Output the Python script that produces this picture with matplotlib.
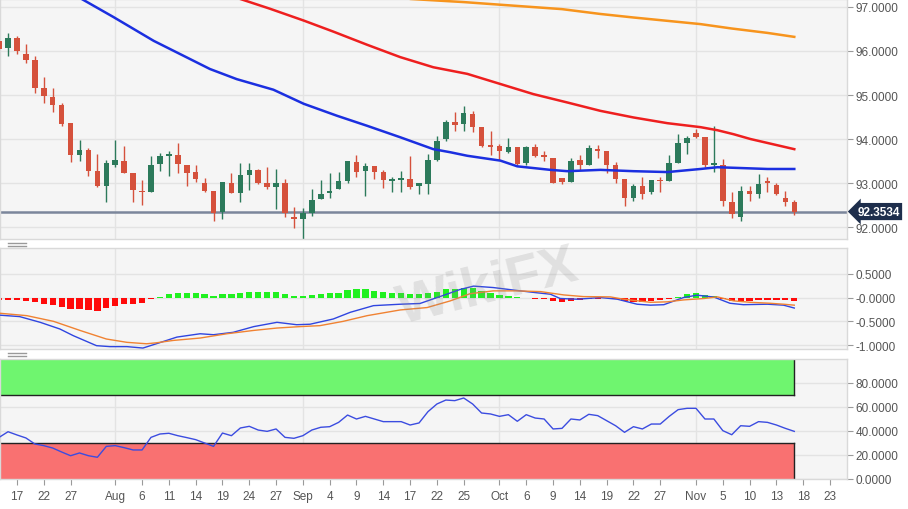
import numpy as np
import pandas as pd
import matplotlib
matplotlib.use("Agg")
import matplotlib.pyplot as plt
import matplotlib.transforms as mtransforms
from matplotlib.lines import Line2D

plt.rcParams['font.family'] = ['Liberation Sans', 'DejaVu Sans']

# trading days shown on the axis (chart runs a few days into the future)
dates = pd.bdate_range('2020-07-15', '2020-11-27')

# daily candles, 15 Jul - 17 Nov 2020
opens = [96.22, 96.06, 96.29, 95.93, 95.80, 95.17, 94.95, 94.78, 94.36, 93.64,
         93.75, 93.27, 92.94, 93.41, 93.51, 93.24, 92.83, 92.79, 93.43, 93.61,
         93.64, 93.42, 93.26, 93.01, 92.83, 92.35, 93.01, 92.77, 93.19, 93.30,
         93.00, 92.92, 93.00, 92.24, 92.18, 92.31, 92.64, 92.77, 92.86, 93.05,
         93.47, 93.28, 93.39, 93.26, 93.05, 93.08, 93.09, 92.94, 92.98, 93.52,
         94.00, 94.38, 94.34, 94.57, 94.27, 93.86, 93.85, 93.71, 93.81, 93.45,
         93.83, 93.64, 93.58, 93.11, 93.03, 93.52, 93.42, 93.77, 93.72, 93.41,
         93.09, 92.65, 92.94, 92.80, 93.07, 93.04, 93.45, 93.92, 94.13, 94.04,
         93.41, 93.41, 92.57, 92.22, 92.81, 92.75, 93.05, 92.96, 92.67, 92.56]
highs = [96.30, 96.40, 96.33, 96.16, 95.89, 95.40, 95.17, 94.81, 94.36, 93.98,
         93.79, 93.67, 93.52, 93.98, 93.85, 93.24, 93.07, 93.62, 93.68, 93.72,
         93.90, 93.42, 93.42, 93.11, 92.83, 93.03, 93.24, 93.45, 93.45, 93.33,
         93.36, 93.32, 93.09, 92.45, 92.43, 92.86, 93.07, 93.24, 93.26, 93.49,
         93.64, 93.45, 93.39, 93.30, 93.14, 93.28, 93.62, 93.00, 93.67, 94.08,
         94.44, 94.61, 94.74, 94.63, 94.27, 94.19, 93.89, 94.02, 93.81, 93.85,
         93.89, 93.73, 93.58, 93.12, 93.58, 93.64, 93.87, 93.87, 93.72, 93.47,
         93.09, 92.98, 93.13, 93.07, 93.14, 93.64, 94.11, 94.07, 94.23, 94.04,
         94.30, 93.55, 92.80, 92.94, 92.94, 93.20, 93.14, 93.00, 92.83, 92.61]
lows = [95.80, 95.89, 95.92, 95.73, 95.05, 94.82, 94.61, 94.30, 93.47, 93.49,
        93.17, 92.92, 92.56, 93.36, 93.22, 92.56, 92.50, 92.79, 93.28, 93.17,
        93.24, 92.93, 93.03, 92.79, 92.14, 92.18, 92.77, 92.58, 92.85, 92.98,
        92.86, 92.41, 92.22, 91.99, 91.73, 92.26, 92.64, 92.66, 92.86, 93.01,
        93.13, 92.71, 93.09, 92.88, 92.79, 92.79, 92.86, 92.75, 92.75, 93.50,
        93.96, 94.19, 94.19, 94.15, 93.82, 93.64, 93.53, 93.69, 93.41, 93.41,
        93.60, 93.49, 93.01, 92.99, 93.03, 93.30, 93.41, 93.57, 93.22, 93.00,
        92.47, 92.60, 92.64, 92.75, 92.79, 93.04, 93.45, 93.66, 94.02, 93.36,
        93.26, 92.48, 92.20, 92.14, 92.60, 92.66, 92.79, 92.72, 92.49, 92.28]
closes = [96.05, 96.29, 96.01, 95.80, 95.17, 94.97, 94.78, 94.34, 93.64, 93.76,
          93.27, 92.94, 93.45, 93.52, 93.24, 92.84, 92.79, 93.41, 93.61, 93.66,
          93.43, 93.24, 93.09, 92.83, 92.33, 93.03, 92.77, 93.19, 93.30, 93.00,
          92.90, 93.00, 92.33, 92.18, 92.31, 92.62, 92.75, 92.81, 93.05, 93.49,
          93.26, 93.38, 93.26, 93.08, 93.09, 93.11, 92.90, 93.00, 93.52, 93.96,
          94.38, 94.32, 94.58, 94.27, 93.85, 93.83, 93.72, 93.81, 93.43, 93.83,
          93.62, 93.60, 93.01, 93.03, 93.51, 93.42, 93.79, 93.72, 93.41, 93.09,
          92.65, 92.94, 92.75, 93.07, 93.04, 93.45, 93.92, 94.02, 94.04, 93.42,
          93.45, 92.60, 92.30, 92.83, 92.75, 92.99, 93.01, 92.75, 92.56, 92.3534]
last_price = 92.3534

# moving averages, read at points along each curve (bar index, value)
sma50_idx = [8, 9.25, 12.8, 17.3, 23.6, 26.6, 30.7, 34.1, 37.8, 41.2, 44.9, 48.6,
             50.5, 52.4, 56.1, 58.0, 61.7, 63.6, 67.3, 71.0, 74.8, 78.5, 80.4, 86.0, 89]
sma50_val = [97.33, 97.18, 96.77, 96.23, 95.59, 95.36, 95.12, 94.80, 94.53, 94.30,
             94.04, 93.77, 93.70, 93.62, 93.51, 93.38, 93.30, 93.27, 93.30, 93.27,
             93.25, 93.32, 93.36, 93.32, 93.32]
sma100_idx = [26, 27.0, 30.3, 34.1, 37.4, 41.2, 44.9, 48.6, 52.4, 56.1, 59.8, 63.6,
              67.3, 71.0, 74.8, 78.5, 80.4, 82.2, 84.1, 89]
sma100_val = [97.25, 97.18, 96.96, 96.69, 96.44, 96.14, 95.86, 95.63, 95.48, 95.25,
              95.02, 94.83, 94.64, 94.49, 94.36, 94.27, 94.20, 94.11, 94.00, 93.77]
sma200_idx = [45, 46.1, 52, 56.1, 63, 67.3, 71, 75, 78.5, 82, 86, 89]
sma200_val = [97.22, 97.18, 97.11, 97.05, 96.95, 96.84, 96.76, 96.68, 96.61, 96.51,
              96.41, 96.32]

# MACD histogram per bar, MACD and signal lines read at points
macd_hist = [-0.055, -0.05, -0.05, -0.07, -0.10, -0.14, -0.16, -0.19, -0.24, -0.24,
             -0.26, -0.28, -0.22, -0.17, -0.14, -0.125, -0.11, -0.04, 0.014, 0.08,
             0.09, 0.09, 0.09, 0.07, 0.035, 0.07, 0.08, 0.10, 0.125, 0.125,
             0.125, 0.125, 0.08, 0.035, 0.035, 0.055, 0.07, 0.09, 0.10, 0.16,
             0.17, 0.17, 0.14, 0.125, 0.10, 0.10, 0.08, 0.08, 0.10, 0.125,
             0.17, 0.17, 0.21, 0.19, 0.14, 0.09, 0.055, 0.03, 0.01, -0.01,
             -0.02, -0.03, -0.07, -0.10, -0.07, -0.055, -0.035, -0.02, -0.01, -0.035,
             -0.07, -0.09, -0.09, -0.07, -0.05, -0.02, 0.02, 0.07, 0.09, 0.055,
             0.03, -0.02, -0.07, -0.07, -0.07, -0.055, -0.055, -0.055, -0.055, -0.07]
macd_idx = [0.1, 2.3, 4.6, 6.8, 8.3, 10.9, 12.4, 14.3, 16.1, 17.6, 19.9, 22.5, 24.0,
            26.2, 28.5, 31.1, 33.3, 34.8, 37.4, 39.3, 41.9, 44.9, 47.1, 50.1, 51.6,
            53.1, 55.3, 57.9, 60.2, 61.7, 62.8, 64.7, 67.3, 69.2, 71.4, 72.9, 74.4,
            76.6, 78.1, 80.0, 81.8, 83.3, 86.0, 87.8, 89.0]
macd_val = [-0.37, -0.40, -0.52, -0.66, -0.80, -1.01, -1.03, -1.03, -1.06, -0.97,
            -0.83, -0.76, -0.78, -0.73, -0.61, -0.52, -0.57, -0.56, -0.45, -0.31,
            -0.17, -0.14, -0.125, 0.07, 0.17, 0.24, 0.21, 0.15, 0.10, 0.07,
            -0.02, -0.035, 0.0, -0.035, -0.14, -0.16, -0.15, 0.0, 0.05, 0.01,
            -0.12, -0.15, -0.14, -0.16, -0.22]
signal_idx = [0.1, 3.1, 6.1, 9.05, 12.0, 14.3, 16.5, 17.6, 19.5, 22.5, 25.5, 28.5,
              31.1, 33.7, 35.9, 38.5, 41.2, 44.9, 47.9, 50.5, 52.7, 55.3, 57.9,
              60.6, 63.2, 65.4, 68.4, 69.9, 72.9, 74.8, 76.6, 78.9, 80.4, 82.2,
              84.1, 86.3, 87.8, 89.0]
signal_val = [-0.33, -0.38, -0.50, -0.69, -0.87, -0.94, -0.97, -0.95, -0.90, -0.85,
              -0.76, -0.69, -0.64, -0.61, -0.59, -0.50, -0.38, -0.26, -0.21, -0.07,
              0.08, 0.14, 0.14, 0.125, 0.055, 0.02, 0.014, -0.035, -0.10, -0.09,
              -0.05, -0.02, 0.014, -0.07, -0.10, -0.12, -0.14, -0.16]

# RSI per bar
rsi = [34.7, 39.4, 36.7, 34.2, 29.2, 27.8, 25.8, 22.5, 19.4, 21.7,
       19.4, 18.1, 27.2, 27.8, 26.1, 24.2, 24.2, 34.7, 37.5, 38.1,
       36.1, 34.5, 32.8, 30.0, 27.2, 38.3, 36.1, 42.5, 43.9, 40.8,
       39.7, 41.7, 34.7, 33.9, 36.1, 40.8, 43.1, 43.6, 47.2, 53.3,
       50.0, 52.2, 50.0, 47.8, 47.8, 47.8, 45.0, 46.7, 56.1, 62.5,
       65.8, 65.3, 67.5, 62.5, 55.0, 54.2, 52.2, 53.6, 48.1, 53.6,
       50.8, 50.0, 41.7, 42.2, 50.0, 49.2, 53.9, 52.8, 48.6, 44.4,
       38.9, 43.6, 41.7, 45.8, 45.8, 52.2, 57.8, 58.9, 58.9, 50.0,
       50.0, 40.3, 36.9, 44.4, 43.9, 47.8, 47.2, 45.0, 42.2, 39.7]
rsi_upper = 70
rsi_lower = 30

tick_dates = ['2020-07-17', '2020-07-22', '2020-07-27', '2020-08-03', '2020-08-06',
              '2020-08-11', '2020-08-14', '2020-08-19', '2020-08-24', '2020-08-27',
              '2020-09-01', '2020-09-04', '2020-09-09', '2020-09-14', '2020-09-17',
              '2020-09-22', '2020-09-25', '2020-10-01', '2020-10-06', '2020-10-09',
              '2020-10-14', '2020-10-19', '2020-10-22', '2020-10-27', '2020-11-02',
              '2020-11-05', '2020-11-10', '2020-11-13', '2020-11-18', '2020-11-23']
tick_labels = ['17', '22', '27', 'Aug', '6', '11', '14', '19', '24', '27', 'Sep', '4',
               '9', '14', '17', '22', '25', 'Oct', '6', '9', '14', '19', '22', '27',
               'Nov', '5', '10', '13', '18', '23']
month_starts = ['2020-08-03', '2020-09-01', '2020-10-01', '2020-11-02']

price_ticks = [92, 93, 94, 95, 96, 97]
macd_ticks = [-1.0, -0.5, 0.0, 0.5]
macd_tick_labels = ['-1.0000', '-0.5000', '-0.0000', '0.5000']
rsi_ticks = [0, 20, 40, 60, 80]

# colours
C_UP = '#2c7a5b'
C_DOWN = '#d5513c'
BG = '#f5f5f5'
GRID = '#e3e3e3'
TXT = '#555555'

x = np.arange(len(closes))
o = np.array(opens)
c = np.array(closes)
up = c >= o
cols = np.where(up, C_UP, C_DOWN)
tick_pos = [dates.get_loc(pd.Timestamp(d)) for d in tick_dates]
month_pos = [dates.get_loc(pd.Timestamp(d)) for d in month_starts]
xlim = (0.1, 94.9)

W, H = 908, 510
fig = plt.figure(figsize=(W / 100, H / 100), dpi=100)
fig.patch.set_facecolor('white')


def panel(x0, y0, x1, y1):
    ax = fig.add_axes([x0 / W, 1 - y1 / H, (x1 - x0) / W, (y1 - y0) / H])
    ax.set_facecolor(BG)
    for s in ax.spines.values():
        s.set_color('#d9d9d9')
        s.set_linewidth(1)
    ax.yaxis.tick_right()
    ax.tick_params(axis='y', colors='#9a9a9a', labelcolor=TXT, labelsize=8.5,
                   length=4, pad=2)
    ax.set_xlim(*xlim)
    ax.grid(axis='y', color=GRID, lw=1)
    for m in month_pos:
        ax.axvline(m, color=GRID, lw=1, zorder=0)
    ax.set_axisbelow(True)
    return ax


ax1 = panel(0, 0, 847, 240)
ax2 = panel(0, 249, 847, 350)
ax3 = panel(0, 360, 847, 480)

# price panel
body_lo = np.minimum(o, c)
body_h = np.maximum(np.abs(c - o), 0.025)
ax1.vlines(x, lows, highs, color=cols, lw=1, zorder=2)
ax1.bar(x, body_h, bottom=body_lo, width=0.62, color=cols, zorder=3)
ax1.plot(sma50_idx, sma50_val, color='#1b2fe0', lw=1.8, zorder=4)
ax1.plot(sma100_idx, sma100_val, color='#ee1f1f', lw=1.8, zorder=4)
ax1.plot(sma200_idx, sma200_val, color='#f7941d', lw=1.8, zorder=4)
ax1.axhline(last_price, color='#7b869b', lw=1.8, zorder=1)
ax1.set_ylim(91.73, 97.18)
ax1.set_yticks(price_ticks)
ax1.set_yticklabels(['%.4f' % v for v in price_ticks])
ax1.set_xticks([])
trans = mtransforms.blended_transform_factory(ax1.transAxes, ax1.transData)
ax1.text(1.012, last_price, '%.4f' % last_price, transform=trans, ha='left',
         va='center', color='white', fontsize=8.5, fontweight='bold', clip_on=False,
         bbox=dict(boxstyle='larrow,pad=0.22', fc='#1e2e4c', ec='none'))

# MACD panel
hcols = np.where(np.array(macd_hist) >= 0, '#1ff01f', '#ff0a0a')
ax2.bar(x, macd_hist, width=0.7, color=hcols, zorder=2)
ax2.plot(macd_idx, macd_val, color='#2f45e0', lw=1.0, zorder=3)
ax2.plot(signal_idx, signal_val, color='#f08232', lw=1.0, zorder=3)
ax2.set_ylim(-1.08, 1.04)
ax2.set_yticks(macd_ticks)
ax2.set_yticklabels(macd_tick_labels)
ax2.set_xticks([])

# RSI panel
x_band = [x[0] - 1, x[-1]]
ax3.fill_between(x_band, rsi_upper, 100, color='#6ff56f', lw=0, zorder=1)
ax3.fill_between(x_band, 0, rsi_lower, color='#f97171', lw=0, zorder=1)
ax3.plot(x_band, [rsi_upper] * 2, color='#222222', lw=1, zorder=2)
ax3.plot(x_band, [rsi_lower] * 2, color='#222222', lw=1, zorder=2)
ax3.plot([x[-1]] * 2, [rsi_upper, 100], color='#222222', lw=1, zorder=2)
ax3.plot([x[-1]] * 2, [0, rsi_lower], color='#222222', lw=1, zorder=2)
ax3.plot(x, rsi, color='#3b4ce0', lw=1.0, zorder=3)
ax3.set_ylim(0, 100)
ax3.set_yticks(rsi_ticks)
ax3.set_yticklabels(['%.4f' % v for v in rsi_ticks])
ax3.set_xticks(tick_pos)
ax3.set_xticklabels(tick_labels)
ax3.tick_params(axis='x', colors='#9a9a9a', labelcolor=TXT, labelsize=8.5,
                length=4, pad=4)

# panel resize handles
for yh in (243.5, 246.5, 353.5, 356.5):
    fig.add_artist(Line2D([8 / W, 26 / W], [1 - yh / H] * 2, color='#9a9a9a', lw=1))

# faint watermark
fig.text(488 / W, 1 - 288 / H, 'WikiFX', fontsize=40, fontweight='bold',
         color='#8a8a8a', alpha=0.2, rotation=14, ha='center', va='center')

fig.savefig('out.png', dpi=100)
